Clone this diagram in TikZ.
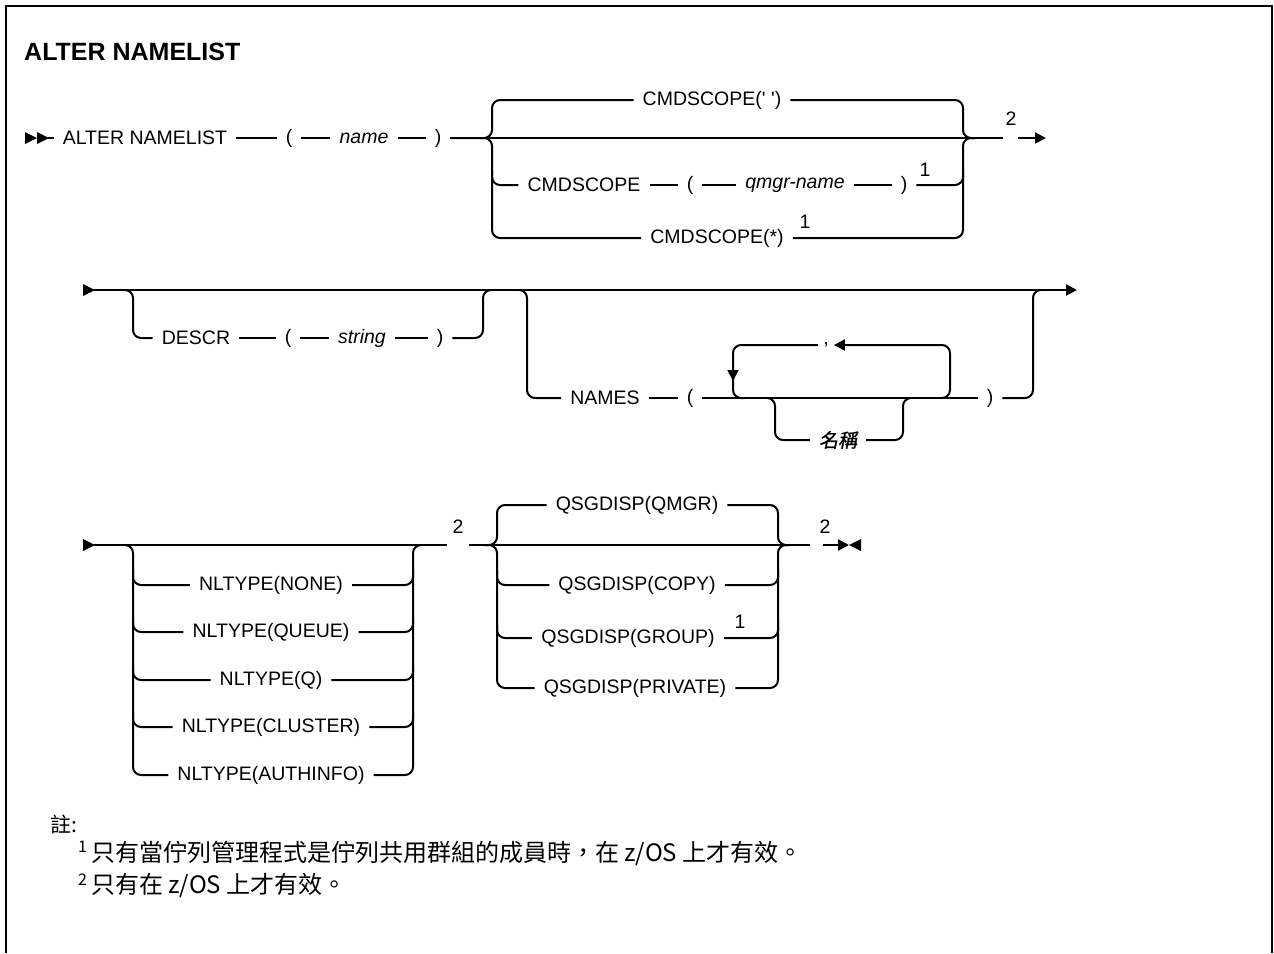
\documentclass[tikz,border=0pt]{standalone}
\usepackage{fontspec}
\setmainfont{Liberation Sans}
\newfontfamily\cjk{Noto Sans CJK TC}
\newfontfamily\cjkit[FakeSlant=0.2,FakeBold=1.2]{Noto Sans CJK TC}
\usetikzlibrary{arrows.meta}
\begin{document}
\begin{tikzpicture}[x=1pt,y=-1pt,
  ln/.style={line width=2pt},
  rc/.style={ln,rounded corners=8pt},
  txt/.style={inner xsep=9pt,inner ysep=2pt,font=\fontsize{19.5}{22}\selectfont},
  itxt/.style={inner xsep=9pt,inner ysep=2pt,font=\fontsize{19.5}{22}\selectfont\itshape},
  fn/.style={inner sep=0pt,font=\fontsize{19.5}{22}\selectfont},
  tip/.style={-{Triangle[length=11pt,width=11pt]}},
  note/.style={inner sep=0pt,anchor=west,font=\cjk\fontsize{24}{28}\selectfont},
  ]
\useasboundingbox (0,0) rectangle (1274,953);
% frame
\draw[line width=2pt] (6,953) -- (6,6) -- (1272,6) -- (1272,953);
\node[anchor=west,inner sep=0pt,font=\fontsize{25}{29}\selectfont\bfseries] (title) at (24,52) {ALTER NAMELIST};

% ---------- row 1
\fill (25,132) -- (37,138) -- (25,144) -- cycle;
\fill (37,132) -- (49,138) -- (37,144) -- cycle;
\coordinate (s1) at (48,138);
\node[txt] (alter) at (145,138) {ALTER NAMELIST};
\node[txt] (lp1) at (289,138) {(};
\node[itxt] (nm) at (364,138) {name};
\node[txt] (rp1) at (438,138) {)};
\draw[ln] (s1) -- (alter);
\draw[ln] (alter) -- (lp1);
\draw[ln] (lp1) -- (nm);
\draw[ln] (nm) -- (rp1);
\coordinate (e1a) at (1003,138);
\draw[ln] (rp1) -- (e1a);
\node[fn] (f2a) at (1011,119) {2};
\coordinate (e1b) at (1018,138);
\coordinate (e1c) at (1046,138);
\draw[ln,tip] (e1b) -- (e1c);

\node[txt] (csd) at (712,100) {CMDSCOPE(\textquotesingle\ \textquotesingle)};
\node[txt] (cs2) at (584,185) {CMDSCOPE};
\node[txt] (lp2) at (690,185) {(};
\node[itxt] (qm) at (795,185) {qmgr-name};
\node[txt] (rp2) at (904,185) {)};
\node[fn] (f1a) at (925,170) {1};
\node[txt] (csa) at (717,238) {CMDSCOPE(*)};
\node[fn] (f1b) at (805,222) {1};

\draw[rc] (rp1) -- (492,138) -- (492,100) -- (csd);
\draw[rc] (480,138) -- (492,138) -- (492,238) -- (csa);
\draw[rc] (492,170) -- (492,185) -- (cs2);
\draw[ln] (cs2) -- (lp2);
\draw[ln] (lp2) -- (qm);
\draw[ln] (qm) -- (rp2);
\draw[rc] (csd) -- (963,100) -- (963,138) -- (975,138);
\draw[rc] (csa) -- (963,238) -- (963,138) -- (975,138);
\draw[rc] (rp2) -- (963,185) -- (963,170);

% ---------- row 2
\fill (83,284) -- (95,290) -- (83,296) -- cycle;
\coordinate (s2) at (94,290);
\coordinate (e2) at (1077,290);
\draw[ln,tip] (s2) -- (e2);

\node[txt] (descr) at (196,338) {DESCR};
\node[txt] (lp3) at (288,338) {(};
\node[itxt] (str) at (362,338) {string};
\node[txt] (rp3) at (440,338) {)};
\draw[rc] (125,290) -- (133,290) -- (133,338) -- (descr);
\draw[ln] (descr) -- (lp3);
\draw[ln] (lp3) -- (str);
\draw[ln] (str) -- (rp3);
\draw[rc] (rp3) -- (483,338) -- (483,290) -- (491,290);

\node[txt] (names) at (605,398) {NAMES};
\node[txt] (lp4) at (690,398) {(};
\node[txt] (rp4) at (990,398) {)};
\node[inner xsep=5pt,inner ysep=4pt,font=\fontsize{19.5}{22}\selectfont] (comma) at (826,345) {\raisebox{3pt}{,}};
\node[inner xsep=9pt,inner ysep=2pt,font=\cjkit\fontsize{19}{22}\selectfont] (mc) at (838,440) {名稱};
\draw[rc] (519,290) -- (527,290) -- (527,398) -- (names);
\draw[ln] (names) -- (lp4);
\draw[ln] (lp4) -- (rp4);
\draw[rc] (rp4) -- (1033,398) -- (1033,290) -- (1041,290);
\draw[rc,tip] (942,398) -- (950,398) -- (950,345) -- (comma);
\draw[rc] (comma) -- (733,345) -- (733,398) -- (745,398);
\draw[ln,tip] (733,360) -- (733,381);
\draw[rc] (767,398) -- (775,398) -- (775,440) -- (mc);
\draw[rc] (mc) -- (903,440) -- (903,398) -- (911,398);

% ---------- row 3
\fill (83,539) -- (95,545) -- (83,551) -- cycle;
\coordinate (s3) at (94,545);
\coordinate (m3a) at (447,545);
\draw[ln] (s3) -- (m3a);
\node[fn] (f2b) at (458,527) {2};
\coordinate (m3b) at (469,545);
\coordinate (m3c) at (810,545);
\draw[ln] (m3b) -- (m3c);
\node[fn] (f2c) at (825,527) {2};
\coordinate (m3d) at (823,545);
\coordinate (m3e) at (849,545);
\draw[ln,tip] (m3d) -- (m3e);
\fill (861,539) -- (849,545) -- (861,551) -- cycle;

\node[txt] (nl1) at (271,585) {NLTYPE(NONE)};
\node[txt] (nl2) at (271,632) {NLTYPE(QUEUE)};
\node[txt] (nl3) at (271,680) {NLTYPE(Q)};
\node[txt] (nl4) at (271,727) {NLTYPE(CLUSTER)};
\node[txt] (nl5) at (271,775) {NLTYPE(AUTHINFO)};
\draw[rc] (125,545) -- (133,545) -- (133,775) -- (nl5);
\draw[rc] (133,570) -- (133,585) -- (nl1);
\draw[rc] (133,617) -- (133,632) -- (nl2);
\draw[rc] (133,665) -- (133,680) -- (nl3);
\draw[rc] (133,712) -- (133,727) -- (nl4);
\draw[rc] (nl5) -- (413,775) -- (413,545) -- (421,545);
\draw[rc] (nl1) -- (413,585) -- (413,570);
\draw[rc] (nl2) -- (413,632) -- (413,617);
\draw[rc] (nl3) -- (413,680) -- (413,665);
\draw[rc] (nl4) -- (413,727) -- (413,712);

\node[txt] (q1) at (637,505) {QSGDISP(QMGR)};
\node[txt] (q2) at (637,585) {QSGDISP(COPY)};
\node[txt] (q3) at (628,638) {QSGDISP(GROUP)};
\node[fn] (f1c) at (740,622) {1};
\node[txt] (q4) at (635,688) {QSGDISP(PRIVATE)};
\draw[rc] (485,545) -- (497,545) -- (497,505) -- (q1);
\draw[rc] (485,545) -- (497,545) -- (497,688) -- (q4);
\draw[rc] (497,570) -- (497,585) -- (q2);
\draw[rc] (497,623) -- (497,638) -- (q3);
\draw[rc] (q1) -- (778,505) -- (778,545) -- (790,545);
\draw[rc] (q4) -- (778,688) -- (778,545) -- (790,545);
\draw[rc] (q2) -- (778,585) -- (778,570);
\draw[rc] (q3) -- (778,638) -- (778,623);

% ---------- notes
\node[note,font=\cjk\fontsize{21}{24}\selectfont] (nh) at (50,824) {註:};
\node[note] (n1) at (78,853) {\raisebox{0.36em}{\fontsize{16}{16}\selectfont 1}\,只有當佇列管理程式是佇列共用群組的成員時，在 z/OS 上才有效。};
\node[note] (n2) at (78,886) {\raisebox{0.36em}{\fontsize{16}{16}\selectfont 2}\,只有在 z/OS 上才有效。};
\end{tikzpicture}
\end{document}
